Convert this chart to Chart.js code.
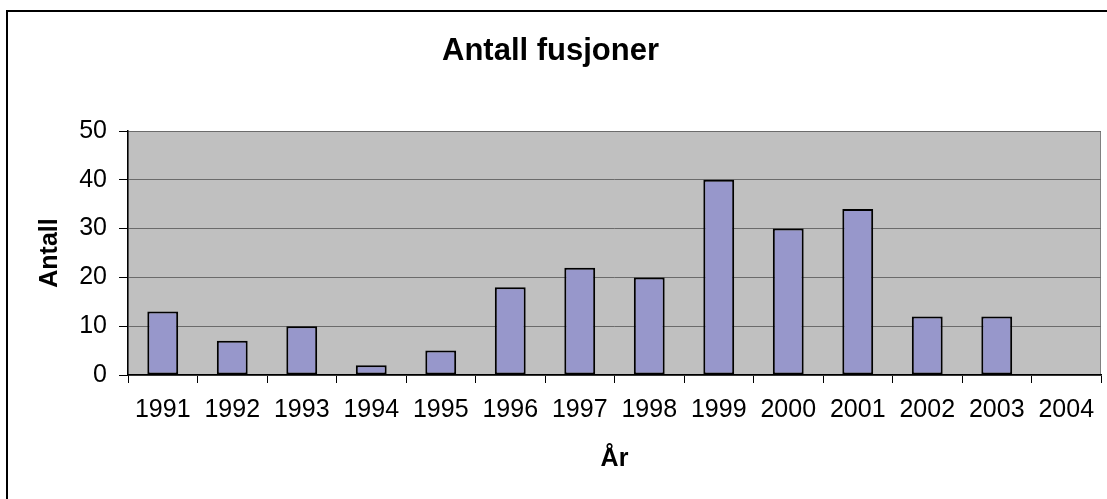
<!DOCTYPE html>
<html lang="no">
<head>
    <meta charset="UTF-8">
    <title>Antall fusjoner</title>
    <script src="https://cdn.jsdelivr.net/npm/chart.js"></script>
    <style>
        body {
            margin: 0;
            background-color: #ffffff;
            overflow: hidden;
            width: 1107px;
            height: 499px;
            position: relative;
        }
        #frame {
            position: absolute;
            left: 6px;
            top: 10px;
            width: 1200px;
            height: 600px;
            border: 2px solid #000;
            pointer-events: none;
        }
        #chart {
            position: absolute;
            left: 0;
            top: 0;
        }
    </style>
</head>
<body>
    <canvas id="chart" width="1124" height="499"></canvas>
    <div id="frame"></div>

    <script>
        const years = ['1991', '1992', '1993', '1994', '1995', '1996', '1997',
                       '1998', '1999', '2000', '2001', '2002', '2003', '2004'];
        const fusjoner = [13, 7, 10, 2, 5, 18, 22, 20, 40, 30, 34, 12, 12, 0];
        const yTicks = [0, 10, 20, 30, 40, 50];

        const fontFamily = '"Liberation Sans", Arial, sans-serif';

        // grey plot area like the old Excel charts
        const plotBackground = {
            id: 'plotBackground',
            beforeDraw(chart) {
                const { ctx, chartArea: a } = chart;
                ctx.save();
                ctx.fillStyle = '#c0c0c0';
                ctx.fillRect(a.left, a.top, a.right - a.left, a.bottom - a.top);
                ctx.strokeStyle = '#808080';
                ctx.lineWidth = 1;
                ctx.strokeRect(a.left, a.top + 0.5, a.right - a.left - 0.5, a.bottom - a.top);
                ctx.restore();
            }
        };

        new Chart(document.getElementById('chart'), {
            type: 'bar',
            data: {
                labels: years,
                datasets: [{
                    label: 'Antall',
                    data: fusjoner,
                    backgroundColor: '#9797cb',
                    borderColor: '#000000',
                    borderWidth: 2,
                    borderSkipped: false,
                    categoryPercentage: 1.0,
                    barPercentage: 0.444
                }]
            },
            options: {
                responsive: false,
                animation: false,
                layout: {
                    padding: { left: 0, right: 23, top: 0, bottom: 0 }
                },
                plugins: {
                    legend: { display: false },
                    tooltip: { enabled: false },
                    title: {
                        display: true,
                        text: 'Antall fusjoner',
                        color: '#000',
                        font: { family: fontFamily, size: 31, weight: 'bold', lineHeight: 1.2 },
                        padding: { top: 32.4, bottom: 61.4 }
                    }
                },
                scales: {
                    x: {
                        afterFit(scale) { scale.height = 124; },
                        grid: {
                            offset: true,
                            drawOnChartArea: false,
                            drawTicks: true,
                            tickLength: 8,
                            tickColor: '#000'
                        },
                        border: { display: true, color: '#000', width: 1.5 },
                        ticks: {
                            color: '#000',
                            padding: 12,
                            maxRotation: 0,
                            autoSkip: false,
                            font: { family: fontFamily, size: 25 }
                        },
                        title: {
                            display: true,
                            text: 'År',
                            color: '#000',
                            font: { family: fontFamily, size: 25, weight: 'bold', lineHeight: 1.2 },
                            padding: { top: 0, bottom: 25.3 }
                        }
                    },
                    y: {
                        min: 0,
                        max: 50,
                        afterFit(scale) { scale.width = 128; },
                        afterBuildTicks(scale) {
                            scale.ticks = yTicks.map(v => ({ value: v }));
                        },
                        grid: {
                            color: '#6b6b6b',
                            lineWidth: 1,
                            drawTicks: true,
                            tickLength: 9,
                            tickColor: '#000'
                        },
                        border: { display: true, color: '#000', width: 1.5 },
                        ticks: {
                            color: '#000',
                            padding: 12,
                            font: { family: fontFamily, size: 25 }
                        },
                        title: {
                            display: true,
                            text: 'Antall',
                            color: '#000',
                            font: { family: fontFamily, size: 25, weight: 'bold', lineHeight: 1.2 },
                            padding: { top: 35, bottom: 0 }
                        }
                    }
                }
            },
            plugins: [plotBackground]
        });
    </script>
</body>
</html>
